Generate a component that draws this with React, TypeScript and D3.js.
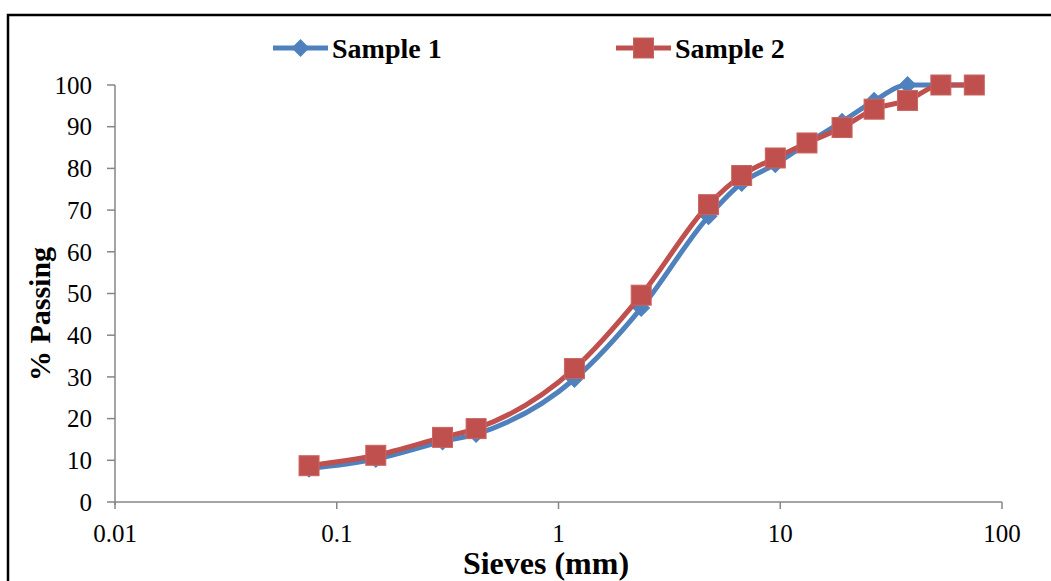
import React, { useEffect } from "react";
import * as d3 from "d3";

const sieves = [0.075, 0.15, 0.3, 0.425, 1.18, 2.36, 4.75, 6.7, 9.5, 13.2, 19, 26.5, 37.5, 53, 75];
const sample1 = [8, 10.3, 14.5, 16.3, 29.5, 46.5, 68.5, 76.5, 81, 86, 91.2, 96.2, 100, 100, 100];
const sample2 = [8.7, 11.2, 15.5, 17.6, 32, 49.6, 71.3, 78.3, 82.5, 86.1, 89.8, 94.2, 96.3, 100, 100];
const xTicks = [0.01, 0.1, 1, 10, 100];
const xTickLabels = ["0.01", "0.1", "1", "10", "100"];
const yTicks = [0, 10, 20, 30, 40, 50, 60, 70, 80, 90, 100];
const seriesNames = ["Sample 1", "Sample 2"];
const seriesColors = ["#4F81BD", "#C0504D"];

const W = 1051;
const H = 581;
const left = 115;
const right = 1002;
const top = 85;
const bottom = 502;

export default function App() {
  useEffect(() => {
    document.body.style.margin = "0";
  }, []);

  const x = d3.scaleLog().domain([0.01, 100]).range([left, right]);
  const y = d3.scaleLinear().domain([0, 100]).range([bottom, top]);
  const line = d3
    .line<number>()
    .x((_, i) => x(sieves[i]))
    .y((d) => y(d))
    .curve(d3.curveMonotoneX);

  const serif = "'Liberation Serif', 'Times New Roman', serif";
  const axisColor = "#868686";

  const diamond = (cx: number, cy: number, r: number) =>
    `M${cx},${cy - r}L${cx + r},${cy}L${cx},${cy + r}L${cx - r},${cy}Z`;

  return (
    <svg width={W} height={H} style={{ display: "block", background: "#fff" }}>
      <rect x={8} y={15} width={W + 20} height={H + 20} fill="#fff" stroke="#000" strokeWidth={2.5} />

      {/* axes */}
      <line x1={left} x2={right} y1={bottom} y2={bottom} stroke={axisColor} strokeWidth={1.5} />
      <line x1={left} x2={left} y1={top} y2={bottom + 3} stroke={axisColor} strokeWidth={1.5} />
      {yTicks.map((t) => (
        <g key={"y" + t}>
          <line x1={left - 8} x2={left} y1={y(t)} y2={y(t)} stroke={axisColor} strokeWidth={1.5} />
          <text x={left - 23} y={y(t)} dy="0.35em" textAnchor="end" fontFamily={serif} fontSize={25} fill="#000">
            {t}
          </text>
        </g>
      ))}
      {xTicks.map((t, i) => (
        <g key={"x" + t}>
          <line x1={x(t)} x2={x(t)} y1={bottom} y2={bottom + 7} stroke={axisColor} strokeWidth={1.5} />
          <text x={x(t)} y={542} textAnchor="middle" fontFamily={serif} fontSize={25} fill="#000">
            {xTickLabels[i]}
          </text>
        </g>
      ))}

      {/* axis titles */}
      <text x={546} y={574} textAnchor="middle" fontFamily={serif} fontWeight="bold" fontSize={32} fill="#000">
        Sieves (mm)
      </text>
      <text
        transform={`translate(50,314) rotate(-90)`}
        textAnchor="middle"
        fontFamily={serif}
        fontWeight="bold"
        fontSize={30}
        fill="#000"
      >
        % Passing
      </text>

      {/* series 1 */}
      <path d={line(sample1) || ""} fill="none" stroke={seriesColors[0]} strokeWidth={5} />
      {sample1.map((v, i) => (
        <path key={"d" + i} d={diamond(x(sieves[i]), y(v), 9)} fill={seriesColors[0]} />
      ))}

      {/* series 2 */}
      <path d={line(sample2) || ""} fill="none" stroke={seriesColors[1]} strokeWidth={5} />
      {sample2.map((v, i) => (
        <rect
          key={"s" + i}
          x={x(sieves[i]) - 10}
          y={y(v) - 10}
          width={20}
          height={20}
          fill={seriesColors[1]}
          stroke="#C86562"
          strokeWidth={1}
        />
      ))}

      {/* legend */}
      <line x1={273} x2={328} y1={48} y2={48} stroke={seriesColors[0]} strokeWidth={5} />
      <path d={diamond(300.5, 48, 9)} fill={seriesColors[0]} />
      <text x={332} y={58} fontFamily={serif} fontWeight="bold" fontSize={28} fill="#000">
        {seriesNames[0]}
      </text>
      <line x1={616} x2={671} y1={48} y2={48} stroke={seriesColors[1]} strokeWidth={5} />
      <rect x={633.5} y={38} width={20} height={20} fill={seriesColors[1]} stroke="#C86562" strokeWidth={1} />
      <text x={675} y={58} fontFamily={serif} fontWeight="bold" fontSize={28} fill="#000">
        {seriesNames[1]}
      </text>
    </svg>
  );
}
